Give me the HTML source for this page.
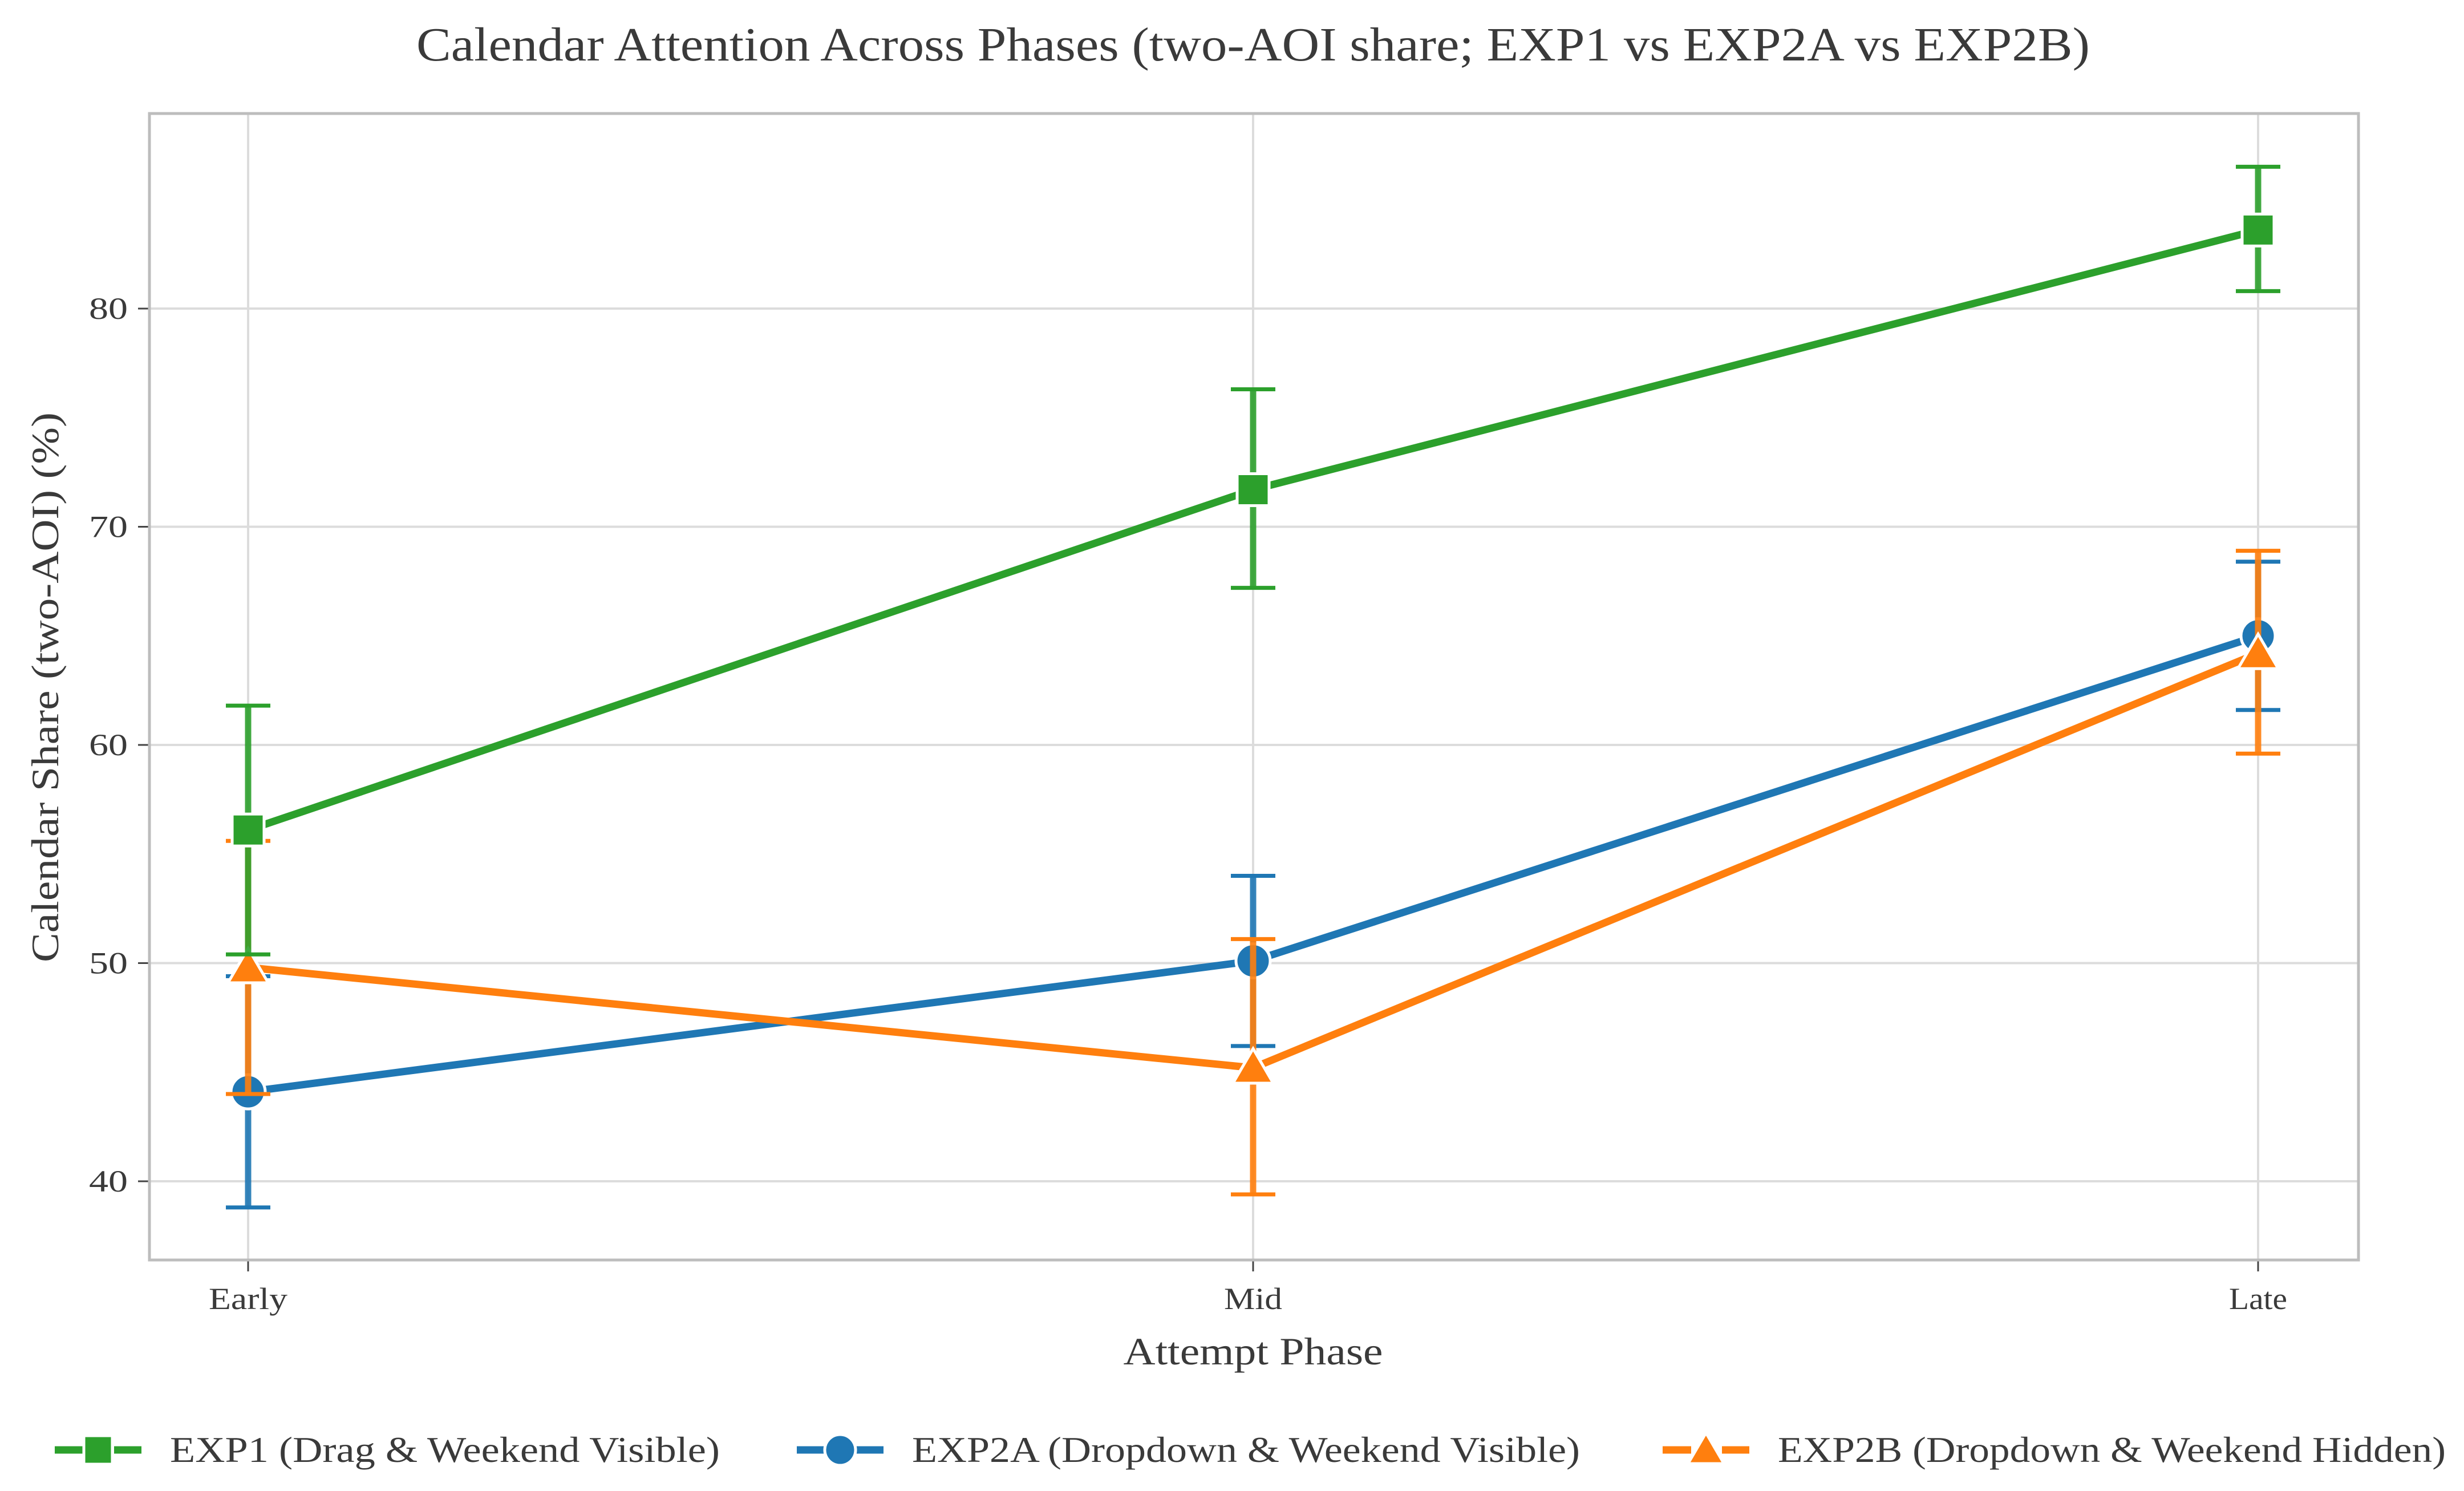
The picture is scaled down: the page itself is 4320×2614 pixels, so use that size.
<!DOCTYPE html>
<html><head><meta charset="utf-8"><style>
html,body{margin:0;padding:0;background:#fff}
svg{display:block}
text{font-family:"Liberation Serif",serif;fill:#3a3a3a}
</style></head><body>
<svg id="chart" width="4320" height="2614" viewBox="0 0 4320 2614" xmlns="http://www.w3.org/2000/svg">
<text x="2197" y="106" text-anchor="middle" font-size="84" textLength="2934" lengthAdjust="spacingAndGlyphs">Calendar Attention Across Phases (two-AOI share; EXP1 vs EXP2A vs EXP2B)</text>
<g id="grid"></g>
<g id="axes"></g>
<g id="series"></g>
<text x="2197" y="2392" text-anchor="middle" font-size="68" textLength="455" lengthAdjust="spacingAndGlyphs">Attempt Phase</text>
<text transform="translate(102,1205) rotate(-90)" text-anchor="middle" font-size="68" textLength="964" lengthAdjust="spacingAndGlyphs">Calendar Share (two-AOI) (%)</text>
<g id="legend"></g>
</svg>
<script>
const categories = ["Early", "Mid", "Late"];
const seriesNames = ["EXP1 (Drag & Weekend Visible)", "EXP2A (Dropdown & Weekend Visible)", "EXP2B (Dropdown & Weekend Hidden)"];
const exp1 = [56.1, 71.7, 83.6];
const exp1Lo = [50.4, 67.2, 80.8];
const exp1Hi = [61.8, 76.3, 86.5];
const exp2a = [44.1, 50.1, 65.0];
const exp2aLo = [38.8, 46.2, 61.6];
const exp2aHi = [49.4, 54.0, 68.4];
const exp2b = [49.8, 45.2, 64.2];
const exp2bLo = [44.0, 39.4, 59.6];
const exp2bHi = [55.6, 51.1, 68.9];
const yTicks = [40, 50, 60, 70, 80];

const NS = "http://www.w3.org/2000/svg";
const L = 262, R = 4135, T = 199, B = 2209;
const xPos = i => 435 + i * (3959 - 435) / (categories.length - 1);
const yPos = v => 541 + (80 - v) * 38.25;
function mk(tag, attrs, parent) {
  const e = document.createElementNS(NS, tag);
  for (const k in attrs) e.setAttribute(k, attrs[k]);
  parent.appendChild(e);
  return e;
}
const grid = document.getElementById('grid');
const axes = document.getElementById('axes');
const series = document.getElementById('series');
const legend = document.getElementById('legend');

yTicks.forEach(t => {
  const g = mk('line', {x1: L, x2: R, y1: yPos(t), y2: yPos(t), stroke: '#dcdcdc', 'stroke-width': 4}, grid);
  
  
  const tk = mk('line', {x1: L - 20, x2: L, y1: yPos(t), y2: yPos(t), stroke: '#444', 'stroke-width': 3}, axes);
  
  
  const lb = mk('text', {x: L - 38, y: yPos(t) + 18, 'text-anchor': 'end', 'font-size': 54, textLength: 68, lengthAdjust: 'spacingAndGlyphs'}, axes);
  lb.textContent = t;
  
  
});
const xLabelW = [138, 102, 102];
categories.forEach((c, i) => {
  const g = mk('line', {x1: xPos(i), x2: xPos(i), y1: T, y2: B, stroke: '#dcdcdc', 'stroke-width': 4}, grid);
  
  
  const tk = mk('line', {x1: xPos(i), x2: xPos(i), y1: B, y2: B + 20, stroke: '#444', 'stroke-width': 3}, axes);
  
  
  const lb = mk('text', {x: xPos(i), y: B + 86, 'text-anchor': 'middle', 'font-size': 54, textLength: xLabelW[i], lengthAdjust: 'spacingAndGlyphs'}, axes);
  lb.textContent = c;
  
  
});
const frame = mk('rect', {x: L, y: T, width: R - L, height: B - T, fill: 'none', stroke: '#bdbdbd', 'stroke-width': 5}, axes);



const defs = [
  {vals: exp2a, lo: exp2aLo, hi: exp2aHi, color: '#1f77b4', marker: 'circle', name: 'exp2a'},
  {vals: exp2b, lo: exp2bLo, hi: exp2bHi, color: '#ff7f0e', marker: 'triangle', name: 'exp2b'},
  {vals: exp1, lo: exp1Lo, hi: exp1Hi, color: '#2ca02c', marker: 'square', name: 'exp1'}
];
function drawMarker(type, x, y, color, parent, s) {
  let m;
  if (type === 'square') m = mk('rect', {x: x - s/2, y: y - s/2, width: s, height: s, fill: color, stroke: '#fff', 'stroke-width': 5}, parent);
  else if (type === 'circle') m = mk('circle', {cx: x, cy: y, r: s/2 + 2, fill: color, stroke: '#fff', 'stroke-width': 5}, parent);
  else { const h = s * 0.6; m = mk('polygon', {points: `${x},${y - h} ${x - h*1.05},${y + h*0.8} ${x + h*1.05},${y + h*0.8}`, fill: color, stroke: '#fff', 'stroke-width': 5}, parent); }
  return m;
}
defs.forEach(d => {
  const g = mk('g', {}, series);
  
  
  d.vals.forEach((v, i) => {
    const x = xPos(i);
    const e = mk('line', {x1: x, x2: x, y1: yPos(d.lo[i]), y2: yPos(d.hi[i]), stroke: d.color, 'stroke-width': 11, opacity: 0.9}, g);
    
    
    [d.lo[i], d.hi[i]].forEach(c => {
      const cap = mk('line', {x1: x - 39, x2: x + 39, y1: yPos(c), y2: yPos(c), stroke: d.color, 'stroke-width': 7}, g);
      
      
    });
  });
  const pts = d.vals.map((v, i) => xPos(i) + ',' + yPos(v)).join(' ');
  const line = mk('polyline', {points: pts, fill: 'none', stroke: d.color, 'stroke-width': 13, 'stroke-linejoin': 'round'}, g);
  
  
  d.vals.forEach((v, i) => {
    const m = drawMarker(d.marker, xPos(i), yPos(v), d.color, g, 56);
    
    
  });
});
const legendOrder = [
  {color: '#2ca02c', marker: 'square', x0: 96, label: seriesNames[0], w: 964},
  {color: '#1f77b4', marker: 'circle', x0: 1397, label: seriesNames[1], w: 1171},
  {color: '#ff7f0e', marker: 'triangle', x0: 2915, label: seriesNames[2], w: 1171}
];
legendOrder.forEach(it => {
  const g = mk('g', {}, legend);
  
  
  const y = 2542;
  mk('line', {x1: it.x0, x2: it.x0 + 152, y1: y, y2: y, stroke: it.color, 'stroke-width': 13, 'stroke-dasharray': '50 12 30 12 50'}, g);
  drawMarker(it.marker, it.x0 + 76, y, it.color, g, 50);
  const t = mk('text', {x: it.x0 + 202, y: y + 21, 'font-size': 64, textLength: it.w, lengthAdjust: 'spacingAndGlyphs'}, g);
  t.textContent = it.label;
});
</script>
</body></html>
